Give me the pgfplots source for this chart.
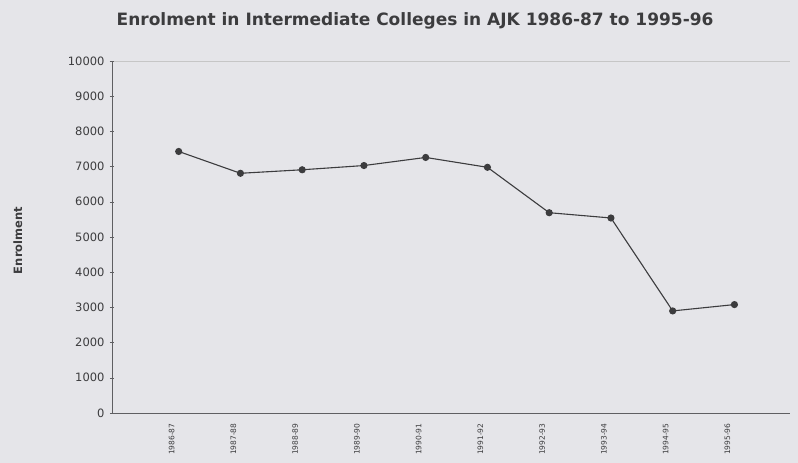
\documentclass[border=0pt]{standalone}
\usepackage{fontspec}
\setmainfont{DejaVu Sans}
\usepackage{pgfplots}
\pgfplotsset{compat=1.18}

\definecolor{paper}{RGB}{229,229,233}
\definecolor{ink}{RGB}{60,60,62}
\definecolor{axisgray}{RGB}{95,95,98}

\begin{document}
\begin{tikzpicture}
% page size matches the 798x463 scan, axis origin at (112,413)
\path[use as bounding box, fill=paper] (-112pt,-50pt) rectangle (686pt,413pt);
\begin{axis}[
    at={(0,0)}, anchor=south west,
    scale only axis,
    width=678pt, height=352pt,
    xmin=-1.08, xmax=9.9,
    ymin=0, ymax=10000,
    axis x line*=bottom,
    axis y line*=left,
    axis line style={axisgray, line width=0.6pt},
    ytick={0,1000,...,10000},
    scaled y ticks=false,
    xtick={0,...,9},
    xticklabels={1986-87,1987-88,1988-89,1989-90,1990-91,1991-92,1992-93,1993-94,1994-95,1995-96},
    x tick label style={rotate=90, anchor=east, font=\fontsize{7.5}{8}\selectfont, text=ink, yshift=7pt, xshift=-5pt},
    y tick label style={font=\fontsize{11.5}{13}\selectfont, text=ink, xshift=-2pt},
    /pgf/number format/assume math mode=true,
    /pgf/number format/1000 sep={},
    tick style={axisgray, line width=0.5pt},
    major tick length=4pt,
    tick align=center,
    xtick style={draw=none},
    extra y ticks={10000},
    extra y tick labels={},
    extra y tick style={grid=major, major grid style={gray!45, line width=0.6pt}},
    ylabel={Enrolment},
    ylabel style={at={(axis description cs:-0.139,0.49)}, anchor=center, font=\bfseries\fontsize{11.5}{13}\selectfont, text=ink},
    title={Enrolment in Intermediate Colleges in AJK 1986-87 to 1995-96},
    title style={at={(axis description cs:0.447,1)}, anchor=center, yshift=34pt, font=\bfseries\fontsize{17}{19}\selectfont, text=ink},
    clip=false,
]
\addplot[ink, line width=1.1pt, mark=*, mark size=3pt, mark options={fill=ink}] coordinates {
    (0,7430) (1,6810) (2,6910) (3,7030) (4,7260)
    (5,6980) (6,5690) (7,5540) (8,2900) (9,3080)
};
\end{axis}
\end{tikzpicture}
\end{document}
